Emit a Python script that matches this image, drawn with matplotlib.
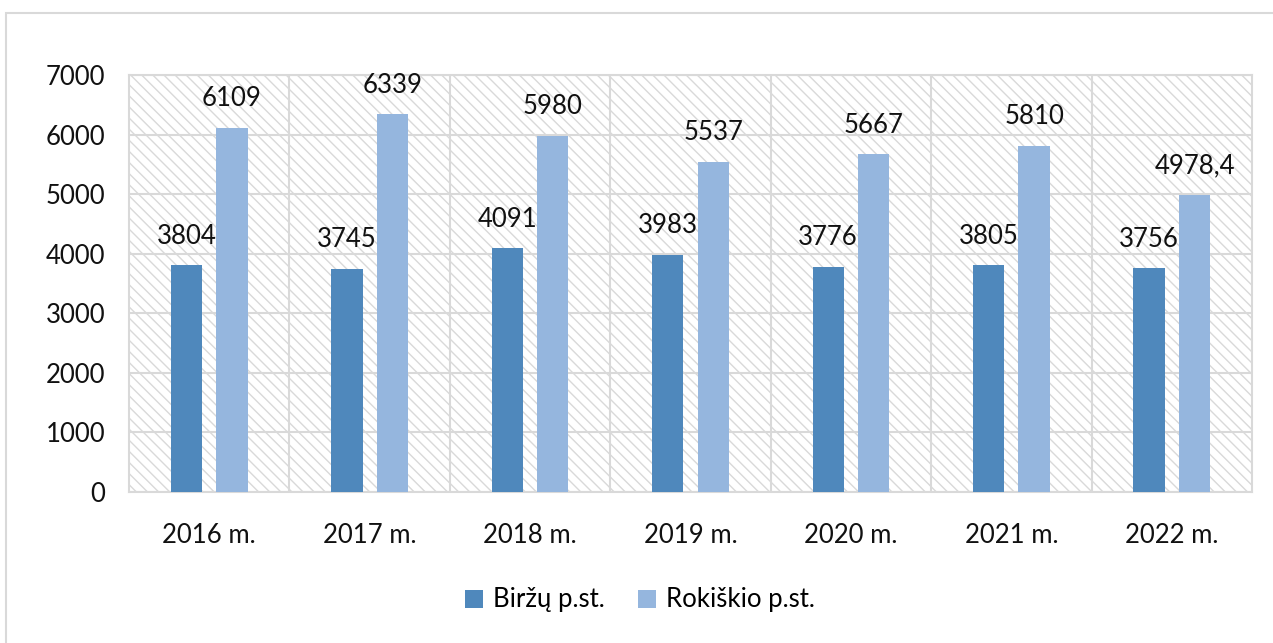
import matplotlib
matplotlib.use("Agg")
import matplotlib.pyplot as plt
from matplotlib.patches import Rectangle
import numpy as np

plt.rcParams.update({"font.family": ["Lato", "DejaVu Sans"], "hatch.color": "#d9d9d9",
                     "hatch.linewidth": 1.0})

years = ["2016 m.", "2017 m.", "2018 m.", "2019 m.", "2020 m.", "2021 m.", "2022 m."]
birzu = [3804, 3745, 4091, 3983, 3776, 3805, 3756]
rokiskio = [6109, 6339, 5980, 5537, 5667, 5810, 4978.4]
birzu_lbl = ["3804", "3745", "4091", "3983", "3776", "3805", "3756"]
rokiskio_lbl = ["6109", "6339", "5980", "5537", "5667", "5810", "4978,4"]

DARK = "#4f88bc"; LIGHT = "#95b6de"; GRID = "#d9d9d9"
FS = 18.5

W, H = 1273, 643
fig = plt.figure(figsize=(W / 100, H / 100), dpi=100)
ax = fig.add_axes([129 / W, 1 - 492 / H, (1252 - 129) / W, (492 - 75) / H])

# outer chart frame (cut off at right/bottom)
fig.patches.append(Rectangle((6 / W, -0.1), 1.2, 1 - 13 / H + 0.1, transform=fig.transFigure,
                             fill=False, edgecolor=GRID, linewidth=1.5, zorder=0))

x = np.arange(len(years))
bw = 0.195; off = 0.142
ax.bar(x - off, birzu, bw, color=DARK, label="Biržų p.st.", zorder=3)
ax.bar(x + off, rokiskio, bw, color=LIGHT, label="Rokiškio p.st.", zorder=3)

for xi, v, t in zip(x, birzu, birzu_lbl):
    ax.annotate(t, (xi - off, v), xytext=(0, 21), textcoords="offset points",
                ha="center", va="center", fontsize=FS, color="#111111")
for xi, v, t in zip(x, rokiskio, rokiskio_lbl):
    ax.annotate(t, (xi + off, v), xytext=(0, 21), textcoords="offset points",
                ha="center", va="center", fontsize=FS, color="#111111")

# hatched plot area
ax.add_patch(Rectangle((0, 0), 1, 1, transform=ax.transAxes, facecolor="white",
                       edgecolor=GRID, linewidth=0, hatch="\\\\\\", zorder=0))
ax.set_xlim(-0.5, len(years) - 0.5)
ax.set_ylim(0, 7000)
ax.set_yticks(range(0, 7001, 1000))
ax.set_xticks(x)
ax.set_xticklabels(years)
for b in np.arange(0.5, len(years) - 0.5, 1):
    ax.axvline(b, color=GRID, linewidth=1.5, zorder=1)
ax.grid(True, axis="y", color=GRID, linewidth=1.5, zorder=1)
ax.set_axisbelow(True)
for s in ax.spines.values():
    s.set_color(GRID); s.set_linewidth(1.5)
ax.tick_params(length=0, labelsize=FS, colors="#111111", pad=22)
ax.tick_params(axis="y", pad=17)

fig.legend(loc="center", bbox_to_anchor=(640 / W, 1 - 600 / H), ncol=2, frameon=False,
           fontsize=FS, handlelength=0.7, handleheight=0.7, handletextpad=0.4,
           columnspacing=1.3)

fig.savefig("out.png", dpi=100)
